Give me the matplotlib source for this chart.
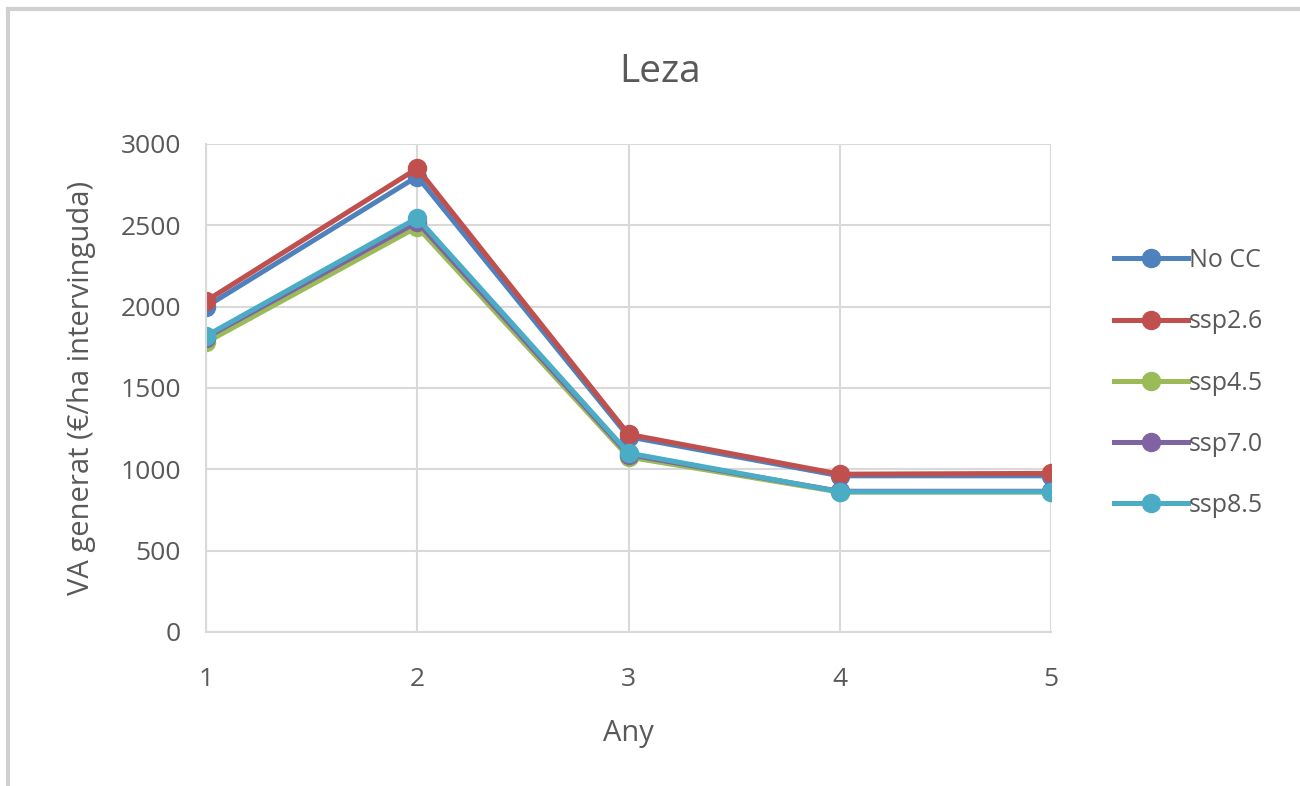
import matplotlib
matplotlib.use("Agg")
import matplotlib.pyplot as plt
from matplotlib.lines import Line2D

plt.rcParams['font.family'] = ['Open Sans', 'DejaVu Sans']

anys = [1, 2, 3, 4, 5]
series_names = ["No CC", "ssp2.6", "ssp4.5", "ssp7.0", "ssp8.5"]
no_cc = [2000, 2800, 1200, 960, 960]
ssp26 = [2035, 2850, 1215, 970, 975]
ssp45 = [1780, 2490, 1075, 860, 860]
ssp70 = [1810, 2520, 1090, 865, 865]
ssp85 = [1820, 2545, 1100, 862, 862]
colors = ["#4F81BD", "#C0504D", "#9BBB59", "#8064A2", "#4BACC6"]

fig = plt.figure(figsize=(13, 7.86), dpi=100)
ax = fig.add_axes([0.1585, 0.196, 0.65, 0.6208])

for vals, name, c in zip([no_cc, ssp26, ssp45, ssp70, ssp85], series_names, colors):
    ax.plot(anys, vals, color=c, lw=3.6, marker='o', ms=13, label=name)

ax.set_xlim(1, 5)
ax.set_ylim(0, 3000)
ax.set_xticks(anys)
ax.set_yticks(range(0, 3001, 500))
ax.grid(True, color='#D9D9D9', lw=1.5)
ax.set_axisbelow(True)
for s in ['top', 'right']:
    ax.spines[s].set_visible(False)
for s in ['left', 'bottom']:
    ax.spines[s].set_color('#D9D9D9')
    ax.spines[s].set_linewidth(1.5)
ax.tick_params(length=0, labelsize=19, colors='#595959')
ax.tick_params(axis='x', pad=25)
ax.tick_params(axis='y', pad=18)
ax.set_xlabel("Any", fontsize=21, color='#595959', labelpad=20)
ax.set_ylabel("VA generat (€/ha intervinguda)", fontsize=21, color='#595959', labelpad=18)
fig.text(0.508, 0.908, "Leza", fontsize=28, color='#595959', ha='center', va='center')

leg = ax.legend(loc='center left', bbox_to_anchor=(1.06, 0.51), frameon=False,
                fontsize=18, labelcolor='#595959', handlelength=2.95,
                labelspacing=1.45, handletextpad=0.05, borderpad=0)

# outer chart border (top and left visible)
fig.add_artist(Line2D([0.006, 0.006], [0.0, 0.989], color='#D0D0D0', lw=3, transform=fig.transFigure))
fig.add_artist(Line2D([0.006, 1.0], [0.989, 0.989], color='#D0D0D0', lw=3, transform=fig.transFigure))

fig.savefig("out.png", dpi=100)
